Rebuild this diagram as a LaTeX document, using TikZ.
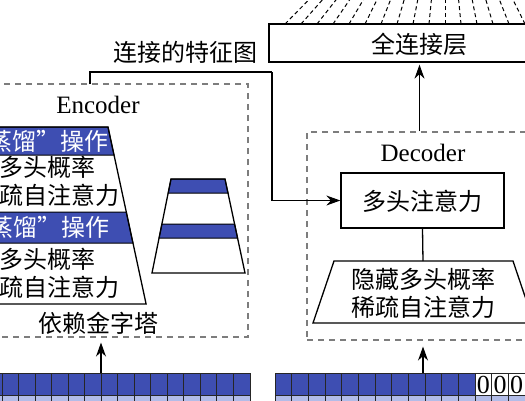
\documentclass[tikz,border=0pt]{standalone}
\usepackage{fontspec}
\setmainfont{Liberation Serif}
\newfontfamily\cjk{Noto Sans CJK SC}
\usetikzlibrary{arrows.meta}
\definecolor{bandblue}{RGB}{62,78,178}
\definecolor{lightblue}{RGB}{178,188,232}
\definecolor{dashgray}{RGB}{125,125,125}
\begin{document}
\begin{tikzpicture}[x=1pt,y=-1pt,
  txt/.style={font=\fontsize{24}{28}\selectfont\cjk, inner sep=0pt, align=center},
  wtxt/.style={txt, text=white},
  lat/.style={font=\fontsize{25}{28}\selectfont, inner sep=0pt},
  dbox/.style={draw=dashgray, dash pattern=on 6pt off 5pt, line width=1.1pt, inner sep=0pt},
  sbox/.style={draw=black, line width=1.3pt, inner sep=0pt},
  arr/.style={line width=1.3pt, -{Stealth[length=14pt,width=10pt]}},
  conn/.style={line width=1.3pt},
  fan/.style={line width=1pt, dash pattern=on 4pt off 3pt},
  band/.style={draw=black, line width=1pt, fill=bandblue},
  outline/.style={draw=black, line width=1.3pt},
  cellA/.style={draw=black!85, fill=bandblue, line width=0.9pt},
  cellB/.style={draw=black!85, fill=lightblue, line width=0.9pt},
  cellW/.style={draw=black!85, fill=white, line width=0.9pt},
  zero/.style={font=\fontsize{26}{28}\selectfont, inner sep=0pt}
]
\clip (0,0) rectangle (525,400);

% ---------- fully connected layer ----------
\foreach \k in {0,...,15} {
  \pgfmathsetmacro\xb{285+16*\k}
  \pgfmathsetmacro\xt{445+0.84*(\xb-445)}
  \draw[fan] (\xb,24) -- (\xt,-2);
}
\node[sbox, fill=white, minimum width=301pt, minimum height=38pt] (fc) at (419.5,43) {};
\node[txt] (fcl) at (419.5,44) {全连接层};

% ---------- encoder ----------
\node[dbox, minimum width=268pt, minimum height=253pt] (enc) at (114,210.5) {};
\node[lat] (encl) at (98,105) {Encoder};

% left pyramid
\fill[white] (-40,127) -- (108,127) -- (146.1,304) -- (-80,304) -- cycle;
\draw[band] (-40,127) -- (108,127) -- (114,155) -- (-40,155) -- cycle;
\draw[band] (-40,212) -- (126.3,212) -- (132.9,243) -- (-40,243) -- cycle;
\draw[outline] (-40,127) -- (108,127) -- (146.1,304) -- (-80,304);
\node[wtxt, anchor=east] (d1) at (109,141) {“蒸馏”操作};
\node[wtxt, anchor=east] (d2) at (110,227.5) {“蒸馏”操作};
\node[txt] (m1) at (48,181) {多头概率\\稀疏自注意力};
\node[txt] (m2) at (48,273) {多头概率\\稀疏自注意力};
\node[txt] (pyr) at (98,323) {依赖金字塔};

% small pyramid
\fill[white] (171,179) -- (225,179) -- (245,273) -- (152,273) -- cycle;
\draw[band] (171,179) -- (225,179) -- (228,193) -- (168.2,193) -- cycle;
\draw[band] (161.9,224) -- (234.6,224) -- (237.6,238) -- (159.1,238) -- cycle;
\draw[outline] (171,179) -- (225,179) -- (245,273) -- (152,273) -- cycle;

% ---------- decoder ----------
\node[dbox, minimum width=253pt, minimum height=208pt] (dec) at (433.5,236) {};
\node[lat] (decl) at (423,153) {Decoder};
\node[sbox, minimum width=163pt, minimum height=55pt] (mha) at (422.5,200.5) {};
\node[txt] (mhal) at (422.5,201) {多头注意力};
\draw[outline] (334,261) -- (513,261) -- (534,323) -- (313,323) -- cycle;
\coordinate (trtop) at (423,261);
\node[txt] (trl) at (423.5,293) {隐藏多头概率\\稀疏自注意力};

% ---------- input rows ----------
\foreach \i in {0,...,15} {
  \draw[cellA] ({250-16.53*(\i+1)},373) rectangle ({250-16.53*\i},395);
  \draw[cellB] ({250-16.53*(\i+1)},395) rectangle ({250-16.53*\i},420);
}
\foreach \i in {0,...,11} {
  \draw[cellA] ({275+16.67*\i},373) rectangle ({275+16.67*(\i+1)},395);
}
\foreach \i in {12,...,15} {
  \draw[cellW] ({275+16.67*\i},373) rectangle ({275+16.67*(\i+1)},395);
  \node[zero] at ({275+16.67*(\i+0.5)},384.5) {0};
}
\foreach \i in {0,...,15} {
  \draw[cellB] ({275+16.67*\i},395) rectangle ({275+16.67*(\i+1)},420);
}
\coordinate (inL) at (101,373);
\coordinate (inR) at (423,373);

% ---------- connectors ----------
\coordinate (ca) at (90,84);
\coordinate (turn) at (272,72);
\draw[conn] (ca) |- (turn);
\draw[arr] (turn) |- (mha.west);
\draw[arr, shorten >=5pt] (inL) -- (inL |- enc.south);
\draw[arr, shorten >=6pt] (inR) -- (inR |- dec.south);
\draw[arr, shorten >=2pt] (dec.north -| fc.south) -- (fc.south);
\draw[conn] (mha.south) -- (trtop);
\node[txt] (feat) at (185,52) {连接的特征图};
\end{tikzpicture}
\end{document}
